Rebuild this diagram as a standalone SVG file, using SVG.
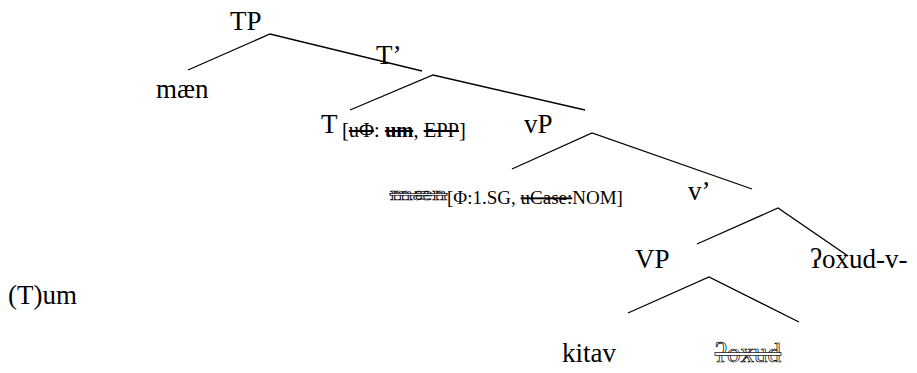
<svg xmlns="http://www.w3.org/2000/svg" width="917" height="373" viewBox="0 0 917 373">
<style>
.edge{stroke:#000;stroke-width:1.3;fill:none}
.s{text-decoration:line-through}
.out{fill:#fff;stroke:#000;stroke-width:0.7;text-decoration:line-through}
</style>
<rect width="917" height="373" fill="#fff"/>
<g id="connectors">
<polyline class="edge" points="188,70 270,34 422,71"/>
<polyline class="edge" points="350,110 433,75 585,110"/>
<polyline class="edge" points="512,169 592,133 752,189"/>
<polyline class="edge" points="697,244 778,208 848,256"/>
<polyline class="edge" points="628,313 709,277 799,322"/>
</g>
<g font-family="Liberation Serif" font-size="27" fill="#000">
<g id="TP"><text x="230" y="30">TP</text></g>
<g id="maen"><text x="156" y="98">mæn</text></g>
<g id="Tbar"><text x="376" y="64">T’</text></g>
<g id="T"><text x="321" y="133">T</text><text font-size="20.5" x="342" y="137">[<tspan class="s">uΦ</tspan>: <tspan font-weight="bold" class="s">um</tspan>, <tspan class="s">EPP</tspan>]</text></g>
<g id="vP"><text x="524" y="133">vP</text></g>
<g id="maen-copy"><text class="out" font-size="19" x="390" y="200" textLength="57" lengthAdjust="spacingAndGlyphs">mæn</text><text font-size="19" x="447" y="204">[Φ:1.SG, <tspan class="s">uCase:</tspan>NOM]</text></g>
<g id="vbar"><text x="688" y="200">v’</text></g>
<g id="VP"><text x="635" y="268">VP</text></g>
<g id="v-head"><text x="810" y="268">ʔoxud-v-</text></g>
<g id="Tum"><text x="8" y="304">(T)um</text></g>
<g id="kitav"><text x="562" y="362">kitav</text></g>
<g id="oxud"><text class="out" x="715" y="362">ʔoxud</text></g>
</g>
</svg>
